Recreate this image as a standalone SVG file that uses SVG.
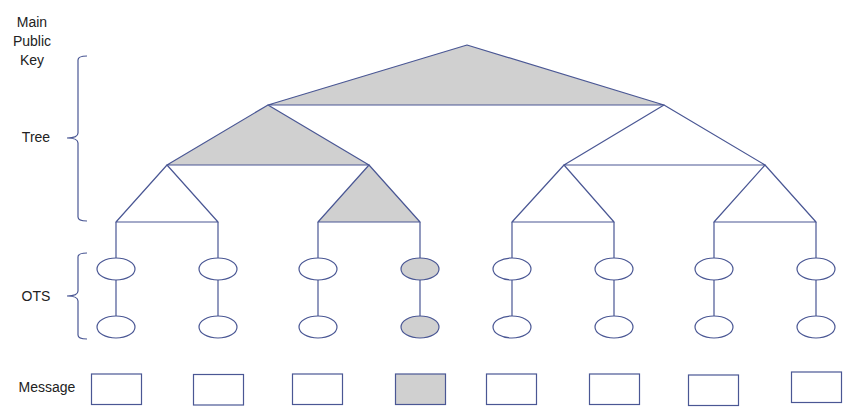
<svg xmlns="http://www.w3.org/2000/svg" width="858" height="417" viewBox="0 0 858 417">
<style>
.ln{stroke:#4a5794;stroke-width:1.2;fill:none}
.tri{stroke:#4a5794;stroke-width:1.2;fill:none;stroke-linejoin:round}
.ot{stroke:#4a5794;stroke-width:1.2;fill:#fff}
.g{fill:#d0d0d0}
.lb{font-family:"Liberation Sans",Arial,sans-serif;font-size:14px;fill:#222}
</style>
<rect width="858" height="417" fill="#fff"/>
<g id="labels">
<text class="lb" x="32" y="27" text-anchor="middle">Main</text>
<text class="lb" x="32" y="46" text-anchor="middle">Public</text>
<text class="lb" x="32" y="65" text-anchor="middle">Key</text>
<text class="lb" x="36" y="142" text-anchor="middle">Tree</text>
<text class="lb" x="36" y="301" text-anchor="middle">OTS</text>
<text class="lb" x="47" y="392" text-anchor="middle">Message</text>
</g>
<g id="braces">
<path class="ln" d="M87,56 Q78,56 78,60 L78,133 Q78,138 67,138 Q78,138 78,143 L78,217 Q78,221 87,221"/>
<path class="ln" d="M87,253 Q78,253 78,257 L78,291 Q78,296 67,296 Q78,296 78,301 L78,335 Q78,339 87,339"/>
</g>
<g id="connectors">
<polygon class="tri g" points="467,45 268,105 664,105"/>
<polygon class="tri g" points="268,105 167,165 369,165"/>
<polygon class="tri" points="664,105 564,165 765,165"/>
<polygon class="tri" points="167,165 116,222 218,222"/>
<polygon class="tri g" points="369,165 318,222 420,222"/>
<polygon class="tri" points="564,165 512,222 614,222"/>
<polygon class="tri" points="765,165 714,222 816,222"/>
<path class="ln" d="M116,222V327M218,222V327M318,222V327M420,222V327M512,222V327M614,222V327M714,222V327M816,222V327"/>
</g>
<g id="ots">
<g id="ots1"><ellipse class="ot" cx="116" cy="269" rx="19" ry="11"/><ellipse class="ot" cx="116" cy="327" rx="19" ry="11"/></g>
<g id="ots2"><ellipse class="ot" cx="218" cy="269" rx="19" ry="11"/><ellipse class="ot" cx="218" cy="327" rx="19" ry="11"/></g>
<g id="ots3"><ellipse class="ot" cx="318" cy="269" rx="19" ry="11"/><ellipse class="ot" cx="318" cy="327" rx="19" ry="11"/></g>
<g id="ots4"><ellipse class="ot g" cx="420" cy="269" rx="19" ry="11"/><ellipse class="ot g" cx="420" cy="327" rx="19" ry="11"/></g>
<g id="ots5"><ellipse class="ot" cx="512" cy="269" rx="19" ry="11"/><ellipse class="ot" cx="512" cy="327" rx="19" ry="11"/></g>
<g id="ots6"><ellipse class="ot" cx="614" cy="269" rx="19" ry="11"/><ellipse class="ot" cx="614" cy="327" rx="19" ry="11"/></g>
<g id="ots7"><ellipse class="ot" cx="714" cy="269" rx="19" ry="11"/><ellipse class="ot" cx="714" cy="327" rx="19" ry="11"/></g>
<g id="ots8"><ellipse class="ot" cx="816" cy="269" rx="19" ry="11"/><ellipse class="ot" cx="816" cy="327" rx="19" ry="11"/></g>
</g>
<g id="messages">
<rect id="m1" class="ot" x="91.5" y="374" width="50" height="30.5"/>
<rect id="m2" class="ot" x="193.5" y="374.5" width="50" height="30.5"/>
<rect id="m3" class="ot" x="292.5" y="374" width="50" height="30.5"/>
<rect id="m4" class="ot g" x="395.5" y="374" width="50" height="30.5"/>
<rect id="m5" class="ot" x="486.5" y="374" width="50" height="30.5"/>
<rect id="m6" class="ot" x="589.5" y="374" width="50" height="30.5"/>
<rect id="m7" class="ot" x="688.5" y="375" width="50" height="30.5"/>
<rect id="m8" class="ot" x="791.5" y="372" width="50" height="30.5"/>
</g>
</svg>
